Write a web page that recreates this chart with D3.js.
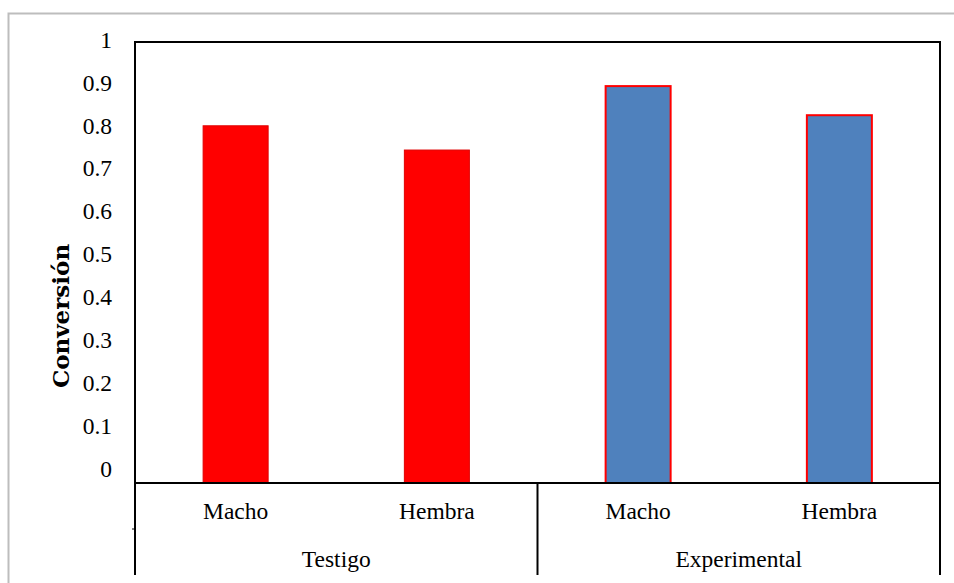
<!DOCTYPE html>
<html>
<head>
<meta charset="utf-8">
<script src="https://cdn.jsdelivr.net/npm/d3@7/dist/d3.min.js"></script>
<style>
  html, body { margin: 0; padding: 0; background: #fff; }
  svg { display: block; }
</style>
</head>
<body>
<script>
// Conversion by sex, for the control and experimental groups
const groups = ["Testigo", "Experimental"];
const categories = ["Macho", "Hembra", "Macho", "Hembra"];
const groupOf = ["Testigo", "Testigo", "Experimental", "Experimental"];
const values = [0.81, 0.755, 0.90, 0.834];
const yTicks = [0, 0.1, 0.2, 0.3, 0.4, 0.5, 0.6, 0.7, 0.8, 0.9, 1];
const yTickLabels = ["0", "0.1", "0.2", "0.3", "0.4", "0.5", "0.6", "0.7", "0.8", "0.9", "1"];
const fills = { Testigo: "#FF0000", Experimental: "#4F81BD" };
const strokes = { Testigo: "#E00000", Experimental: "#FF0000" };

const W = 954, H = 583;
const plot = { left: 135, right: 940, top: 42, bottom: 483 };
const serif = "'Liberation Serif', 'Times New Roman', serif";

const svg = d3.select("body").append("svg")
  .attr("width", W).attr("height", H);

// outer chart frame
svg.append("rect")
  .attr("x", 8.5).attr("y", 13.5)
  .attr("width", W).attr("height", H)
  .attr("fill", "none")
  .attr("stroke", "#BDBDBD")
  .attr("stroke-width", 2);

const x = d3.scaleBand()
  .domain(d3.range(categories.length))
  .range([plot.left, plot.right])
  .paddingInner(0.677)
  .paddingOuter(0.677 / 2);

const y = d3.scaleLinear().domain([0, 1]).range([plot.bottom, plot.top]);
// value-axis labels sit on their own band inside the plot height
const yLabel = d3.scaleLinear().domain([0, 1]).range([468.5, 39.5]);

// bars
svg.append("g").selectAll("rect")
  .data(values)
  .join("rect")
  .attr("x", (d, i) => x(i))
  .attr("width", x.bandwidth())
  .attr("y", d => y(d))
  .attr("height", d => y(0) - y(d))
  .attr("fill", (d, i) => fills[groupOf[i]])
  .attr("stroke", (d, i) => strokes[groupOf[i]])
  .attr("stroke-width", (d, i) => groupOf[i] === "Testigo" ? 1 : 2);

// plot frame
svg.append("rect")
  .attr("x", plot.left).attr("y", plot.top)
  .attr("width", plot.right - plot.left)
  .attr("height", plot.bottom - plot.top)
  .attr("fill", "none")
  .attr("stroke", "#000")
  .attr("stroke-width", 2);

// value axis labels (no tick marks, no axis line)
const yAxis = d3.axisLeft(yLabel)
  .tickValues(yTicks)
  .tickFormat((d, i) => yTickLabels[i])
  .tickSize(0)
  .tickPadding(0);
const gy = svg.append("g")
  .attr("transform", `translate(112,0)`)
  .call(yAxis);
gy.select(".domain").remove();
gy.selectAll("text")
  .attr("font-family", serif)
  .attr("font-size", 23.5)
  .attr("fill", "#000")
  .attr("dy", "0.33em");

// axis title
svg.append("text")
  .attr("transform", "translate(69,316) rotate(-90)")
  .attr("text-anchor", "middle")
  .attr("font-family", "'DejaVu Serif', serif")
  .attr("font-weight", "bold")
  .attr("font-size", 23)
  .attr("fill", "#000")
  .text("Conversión");

// multi-level category axis
const lineBottom = 575;
const step = x.step();
const groupEdges = [plot.left, plot.left + 2 * step, plot.right];
svg.append("g").selectAll("line")
  .data(groupEdges)
  .join("line")
  .attr("x1", d => d).attr("x2", d => d)
  .attr("y1", plot.bottom).attr("y2", lineBottom)
  .attr("stroke", "#000")
  .attr("stroke-width", 2);
svg.append("line")
  .attr("x1", plot.left - 3).attr("x2", plot.left)
  .attr("y1", 529).attr("y2", 529)
  .attr("stroke", "#000").attr("stroke-width", 1);

svg.append("g").selectAll("text")
  .data(categories)
  .join("text")
  .attr("x", (d, i) => x(i) + x.bandwidth() / 2)
  .attr("y", 519)
  .attr("text-anchor", "middle")
  .attr("font-family", serif)
  .attr("font-size", 23.5)
  .attr("fill", "#000")
  .text(d => d);

svg.append("g").selectAll("text")
  .data(groups)
  .join("text")
  .attr("x", (d, i) => (groupEdges[i] + groupEdges[i + 1]) / 2)
  .attr("y", 567)
  .attr("text-anchor", "middle")
  .attr("font-family", serif)
  .attr("font-size", 23.5)
  .attr("fill", "#000")
  .text(d => d);
</script>
</body>
</html>
